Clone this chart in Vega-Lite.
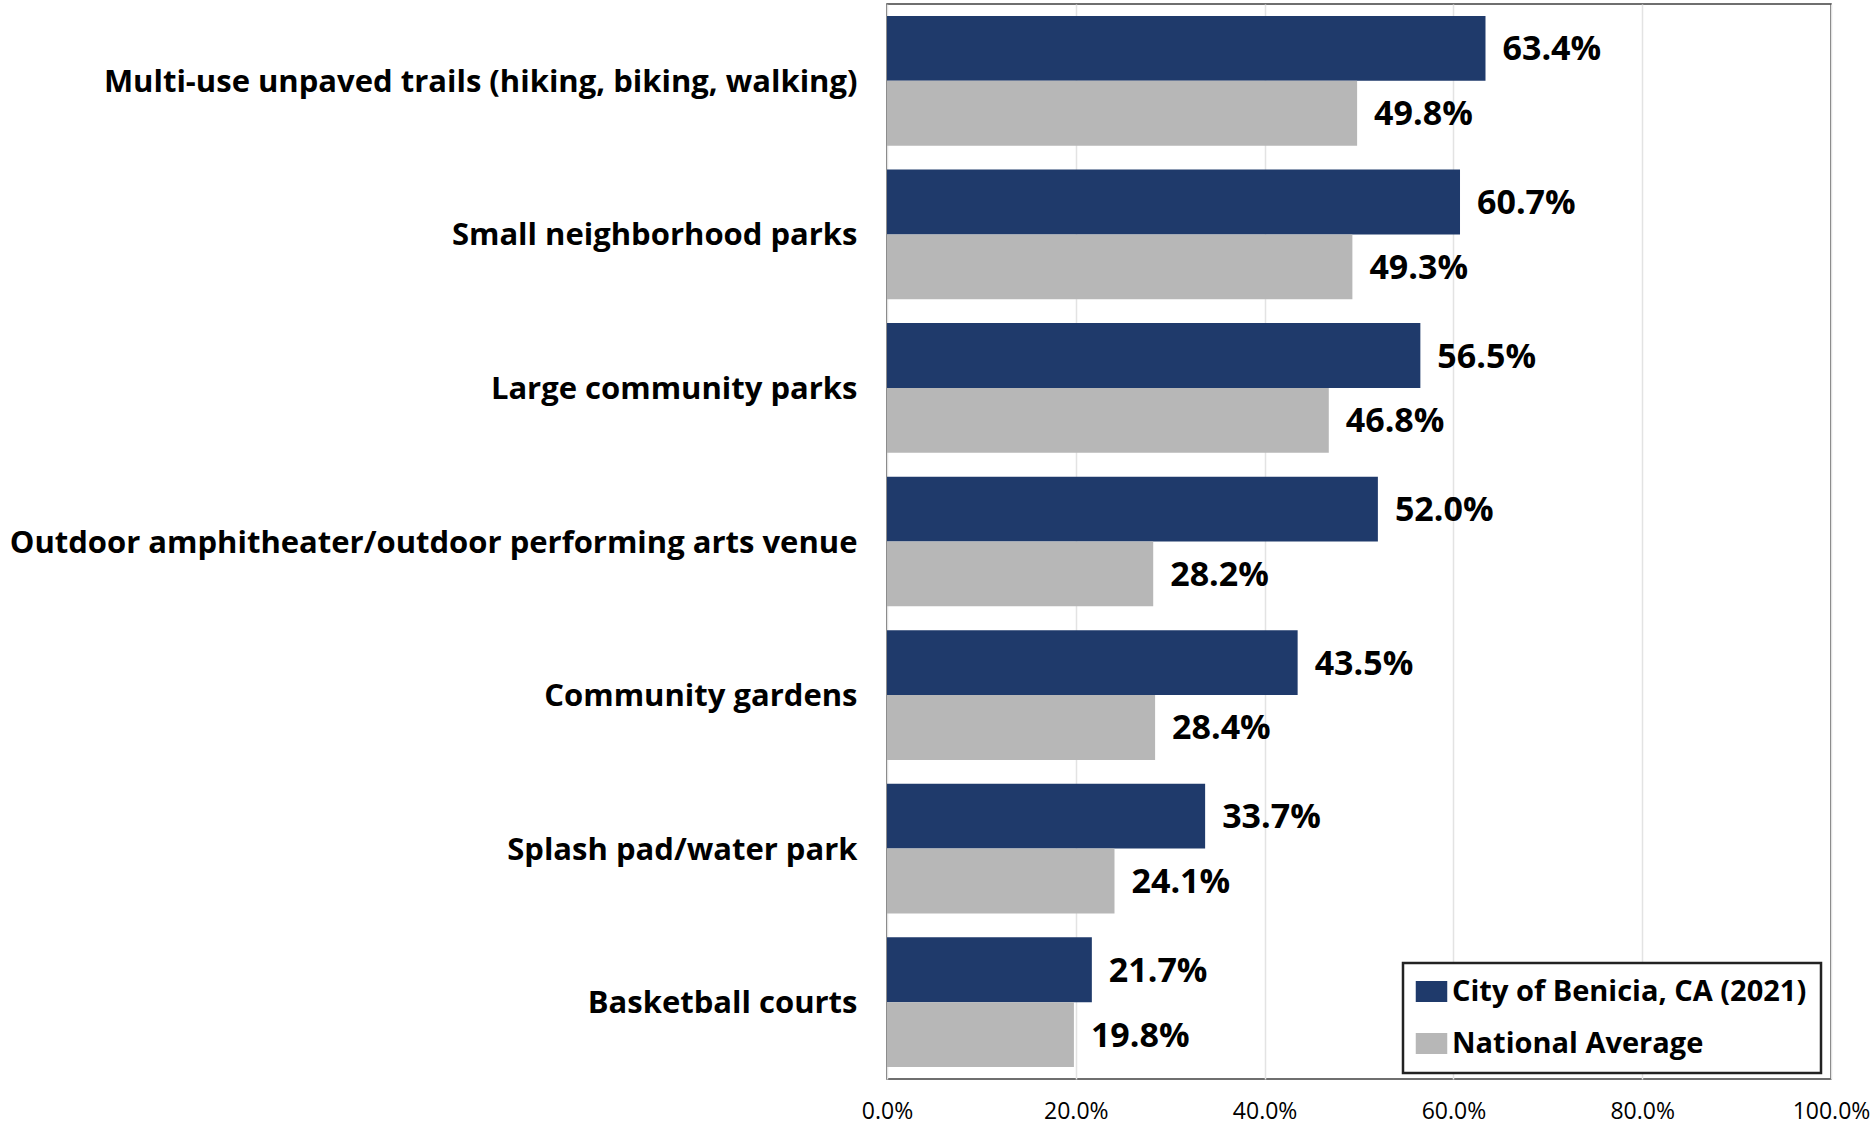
{
  "$schema": "https://vega.github.io/schema/vega-lite/v6.json",
  "autosize": "none",
  "padding": {"left": 887, "top": 4, "right": 44, "bottom": 49},
  "width": 944,
  "height": 1075,
  "background": "white",
  "config": {
    "view": {"stroke": "#404040", "strokeWidth": 1.5},
    "font": "Open Sans",
    "legend": {"strokeWidth": 2.5}
  },
  "data": {
    "values": [
      {"category": "Multi-use unpaved trails (hiking, biking, walking)", "series": "City of Benicia, CA (2021)", "value": 0.634},
      {"category": "Multi-use unpaved trails (hiking, biking, walking)", "series": "National Average", "value": 0.498},
      {"category": "Small neighborhood parks", "series": "City of Benicia, CA (2021)", "value": 0.607},
      {"category": "Small neighborhood parks", "series": "National Average", "value": 0.493},
      {"category": "Large community parks", "series": "City of Benicia, CA (2021)", "value": 0.565},
      {"category": "Large community parks", "series": "National Average", "value": 0.468},
      {"category": "Outdoor amphitheater/outdoor performing arts venue", "series": "City of Benicia, CA (2021)", "value": 0.52},
      {"category": "Outdoor amphitheater/outdoor performing arts venue", "series": "National Average", "value": 0.282},
      {"category": "Community gardens", "series": "City of Benicia, CA (2021)", "value": 0.435},
      {"category": "Community gardens", "series": "National Average", "value": 0.284},
      {"category": "Splash pad/water park", "series": "City of Benicia, CA (2021)", "value": 0.337},
      {"category": "Splash pad/water park", "series": "National Average", "value": 0.241},
      {"category": "Basketball courts", "series": "City of Benicia, CA (2021)", "value": 0.217},
      {"category": "Basketball courts", "series": "National Average", "value": 0.198}
    ]
  },
  "encoding": {
    "y": {
      "field": "category",
      "type": "nominal",
      "sort": null,
      "scale": {"paddingInner": 0.155, "paddingOuter": 0.078},
      "axis": {
        "title": null,
        "ticks": false,
        "domain": false,
        "labelFont": "Open Sans",
        "labelFontWeight": "bold",
        "labelFontSize": 31,
        "labelColor": "#000000",
        "labelPadding": 30,
        "labelOffset": 2,
        "labelLimit": 900
      }
    },
    "yOffset": {
      "field": "series",
      "type": "nominal",
      "sort": ["City of Benicia, CA (2021)", "National Average"],
      "scale": {"paddingInner": 0, "paddingOuter": 0}
    },
    "x": {
      "field": "value",
      "type": "quantitative",
      "scale": {"domain": [0, 1], "nice": false},
      "axis": {
        "title": null,
        "values": [0, 0.2, 0.4, 0.6, 0.8, 1],
        "format": ".1%",
        "ticks": false,
        "domain": false,
        "grid": true,
        "gridColor": "#e3e3e3",
        "gridWidth": 1.5,
        "labelFont": "Open Sans",
        "labelFontSize": 23,
        "labelColor": "#000000",
        "labelPadding": 21,
        "labelFlush": false
      }
    }
  },
  "layer": [
    {
      "mark": {"type": "bar"},
      "encoding": {
        "color": {
          "field": "series",
          "type": "nominal",
          "sort": ["City of Benicia, CA (2021)", "National Average"],
          "scale": {"domain": ["City of Benicia, CA (2021)", "National Average"], "range": ["#1f3a6b", "#b7b7b7"]},
          "legend": {
            "title": null,
            "orient": "none",
            "legendX": 516,
            "legendY": 959,
            "direction": "vertical",
            "fillColor": "white",
            "strokeColor": "#222222",
            "padding": 14,
            "symbolType": "M-1.5,-1H1.5V1H-1.5Z",
            "symbolSize": 441,
            "symbolStrokeWidth": 0,
            "symbolOpacity": 1,
            "labelFont": "Open Sans",
            "labelFontWeight": "bold",
            "labelFontSize": 29,
            "labelColor": "#000000",
            "labelOffset": 6,
            "labelLimit": 500,
            "rowPadding": 22
          }
        }
      }
    },
    {
      "mark": {
        "type": "text",
        "align": "left",
        "baseline": "middle",
        "dx": 17,
        "dy": 2,
        "font": "Open Sans",
        "fontWeight": "bold",
        "fontSize": 34,
        "color": "#000000"
      },
      "encoding": {
        "text": {"field": "value", "type": "quantitative", "format": ".1%"}
      }
    }
  ]
}
